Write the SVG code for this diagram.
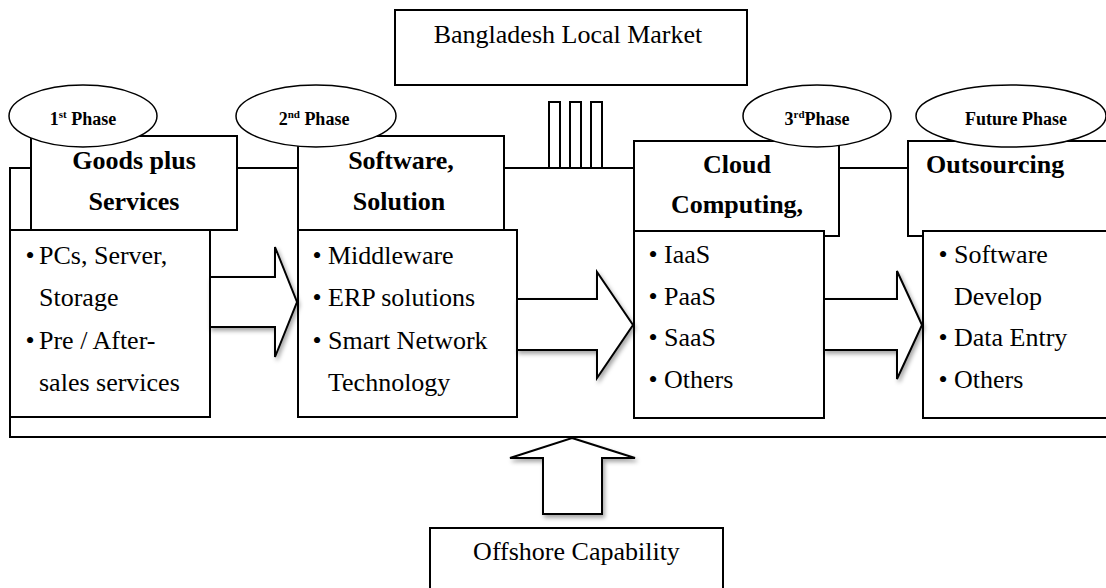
<svg xmlns="http://www.w3.org/2000/svg" width="1106" height="588" viewBox="0 0 1106 588">
<defs>
<filter id="sh" x="-20%" y="-20%" width="150%" height="150%">
<feDropShadow dx="2" dy="3" stdDeviation="2" flood-color="#000" flood-opacity="0.35"/>
</filter>
<style>
.frame{fill:none;stroke:#000;stroke-width:2}
.box{fill:#fff;stroke:#000;stroke-width:2}
.ell{fill:#fff;stroke:#000;stroke-width:1.5}
.arrow{fill:#fff;stroke:#000;stroke-width:2;stroke-linejoin:miter;filter:url(#sh)}
.h{font-family:"Liberation Serif","Times New Roman",serif;font-weight:bold;font-size:26px;fill:#000}
.t{font-family:"Liberation Serif","Times New Roman",serif;font-size:26px;fill:#000}
.p{font-family:"Liberation Serif","Times New Roman",serif;font-weight:bold;font-size:18px;fill:#000}
.sup{font-size:11px}
</style>
</defs>
<rect width="1106" height="588" fill="#fff"/>

<g id="frame">
<rect class="frame" x="10" y="168" width="1110" height="269"/>
</g>

<g id="local-market">
<rect class="box" x="395" y="10" width="352" height="75"/>
<text class="t" x="568" y="43" text-anchor="middle">Bangladesh Local Market</text>
</g>

<g id="market-bars">
<rect class="box" x="549" y="102" width="11" height="66"/>
<rect class="box" x="570" y="102" width="11" height="66"/>
<rect class="box" x="591" y="102" width="11" height="66"/>
</g>

<g id="phase1-header">
<rect class="box" x="31" y="136" width="206" height="94"/>
<text class="h" x="134" y="169" text-anchor="middle">Goods plus</text>
<text class="h" x="134" y="210" text-anchor="middle">Services</text>
</g>
<g id="phase2-header">
<rect class="box" x="298" y="136" width="206" height="94"/>
<text class="h" x="401" y="169" text-anchor="middle">Software,</text>
<text class="h" x="399" y="210" text-anchor="middle">Solution</text>
</g>
<g id="phase3-header">
<rect class="box" x="634" y="141" width="205" height="95"/>
<text class="h" x="737" y="173" text-anchor="middle">Cloud</text>
<text class="h" x="737" y="213" text-anchor="middle">Computing,</text>
</g>
<g id="future-header">
<rect class="box" x="908" y="141" width="220" height="95"/>
<text class="h" x="926" y="173">Outsourcing</text>
</g>

<g id="phase1-content">
<rect class="box" x="10" y="230" width="200" height="187"/>
<text class="t" x="25.5" y="264">•</text><text class="t" x="39" y="264">PCs, Server,</text>
<text class="t" x="39" y="306">Storage</text>
<text class="t" x="25.5" y="349">•</text><text class="t" x="39" y="349">Pre / After-</text>
<text class="t" x="39" y="391">sales services</text>
</g>
<g id="phase2-content">
<rect class="box" x="298" y="230" width="219" height="187"/>
<text class="t" x="312.5" y="264">•</text><text class="t" x="328" y="264">Middleware</text>
<text class="t" x="312.5" y="306">•</text><text class="t" x="328" y="306">ERP solutions</text>
<text class="t" x="312.5" y="349">•</text><text class="t" x="328" y="349">Smart Network</text>
<text class="t" x="328" y="391">Technology</text>
</g>
<g id="phase3-content">
<rect class="box" x="634" y="231" width="190" height="187"/>
<text class="t" x="648.5" y="263">•</text><text class="t" x="664" y="263">IaaS</text>
<text class="t" x="648.5" y="305">•</text><text class="t" x="664" y="305">PaaS</text>
<text class="t" x="648.5" y="346">•</text><text class="t" x="664" y="346">SaaS</text>
<text class="t" x="648.5" y="388">•</text><text class="t" x="664" y="388">Others</text>
</g>
<g id="future-content">
<rect class="box" x="923" y="231" width="200" height="187"/>
<text class="t" x="938.5" y="263">•</text><text class="t" x="954" y="263">Software</text>
<text class="t" x="954" y="305">Develop</text>
<text class="t" x="938.5" y="346">•</text><text class="t" x="954" y="346">Data Entry</text>
<text class="t" x="938.5" y="388">•</text><text class="t" x="954" y="388">Others</text>
</g>

<g id="phase1-label">
<ellipse class="ell" cx="83" cy="116" rx="74" ry="31"/>
<text class="p" x="83" y="125" text-anchor="middle">1<tspan class="sup" dy="-7">st</tspan><tspan dy="7"> Phase</tspan></text>
</g>
<g id="phase2-label">
<ellipse class="ell" cx="316" cy="116" rx="80" ry="31"/>
<text class="p" x="314" y="125" text-anchor="middle">2<tspan class="sup" dy="-7">nd</tspan><tspan dy="7"> Phase</tspan></text>
</g>
<g id="phase3-label">
<ellipse class="ell" cx="817" cy="116" rx="74" ry="31"/>
<text class="p" x="817" y="125" text-anchor="middle">3<tspan class="sup" dy="-7">rd</tspan><tspan dy="7">Phase</tspan></text>
</g>
<g id="future-label">
<ellipse class="ell" cx="1011" cy="116" rx="95" ry="31"/>
<text class="p" x="1016" y="125" text-anchor="middle">Future Phase</text>
</g>

<g id="offshore">
<rect class="box" x="430" y="528" width="293" height="80"/>
<text class="t" x="576.5" y="560" text-anchor="middle">Offshore Capability</text>
</g>

<g id="connectors">
<polygon class="arrow" points="210,277 275,277 275,247 297,302 275,357 275,327 210,327"/>
<polygon class="arrow" points="517,299 597,299 597,272 633,325 597,378 597,350 517,350"/>
<polygon class="arrow" points="824,299 897,299 897,271 922,325 897,379 897,350 824,350"/>
<polygon class="arrow" points="572,438 635,458 602,458 602,514 543,514 543,458 510,458"/>
</g>
</svg>
